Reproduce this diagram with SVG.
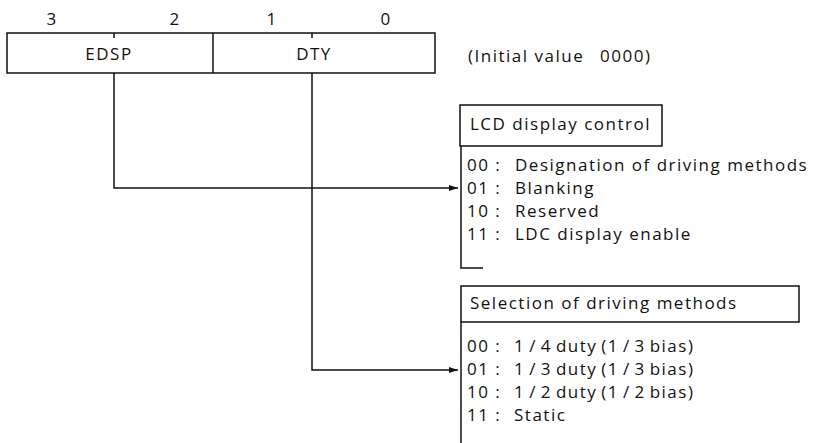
<svg xmlns="http://www.w3.org/2000/svg" width="815" height="443" viewBox="0 0 815 443">
<style>
  text { font-family: "Open Sans", "DejaVu Sans", sans-serif; font-size: 17px; fill: #111; letter-spacing: 1.5px; }
  .ln { fill: none; stroke: #111; stroke-width: 1.5; }
  .mid { text-anchor: middle; }
  .tight { word-spacing: -2px; }
</style>
<defs>
  <marker id="arr" markerWidth="10" markerHeight="8" refX="9" refY="4" orient="auto" markerUnits="userSpaceOnUse">
    <path d="M0,1 L9,4 L0,7 Z" fill="#111"/>
  </marker>
</defs>
<rect width="815" height="443" fill="#fff"/>

<g id="register">
  <text class="mid" x="52" y="25">3</text>
  <text class="mid" x="175" y="25">2</text>
  <text class="mid" x="272" y="25">1</text>
  <text class="mid" x="386" y="25">0</text>
  <rect class="ln" x="7" y="33" width="428" height="40"/>
  <line class="ln" x1="213" y1="33" x2="213" y2="73"/>
  <line class="ln" x1="114" y1="33" x2="114" y2="38"/>
  <line class="ln" x1="312" y1="33" x2="312" y2="38"/>
  <text class="mid" x="109" y="60">EDSP</text>
  <text class="mid" x="314" y="60">DTY</text>
</g>

<g id="initial">
  <text x="468" y="62">(Initial value <tspan x="600">0000)</tspan></text>
</g>

<g id="connectors">
  <path class="ln" d="M114,73 V188 H458" marker-end="url(#arr)"/>
  <path class="ln" d="M312,73 V370 H458" marker-end="url(#arr)"/>
</g>

<g id="lcd">
  <rect class="ln" x="460" y="105" width="202" height="41"/>
  <text x="470" y="130">LCD display control</text>
  <path class="ln" d="M461,146 V268 H483"/>
  <text x="467" y="171">00 :</text><text x="515" y="171">Designation of driving methods</text>
  <text x="467" y="194">01 :</text><text x="515" y="194">Blanking</text>
  <text x="467" y="217">10 :</text><text x="515" y="217">Reserved</text>
  <text x="467" y="240">11 :</text><text x="515" y="240">LDC display enable</text>
</g>

<g id="driving">
  <rect class="ln" x="461" y="286" width="338" height="36"/>
  <text x="470" y="309">Selection of driving methods</text>
  <path class="ln" d="M461,322 V443"/>
  <text x="467" y="352">00 :</text><text class="tight" x="514" y="352">1 / 4 duty (1 / 3 bias)</text>
  <text x="467" y="375">01 :</text><text class="tight" x="514" y="375">1 / 3 duty (1 / 3 bias)</text>
  <text x="467" y="398">10 :</text><text class="tight" x="514" y="398">1 / 2 duty (1 / 2 bias)</text>
  <text x="467" y="421">11 :</text><text x="514" y="421">Static</text>
</g>
</svg>
